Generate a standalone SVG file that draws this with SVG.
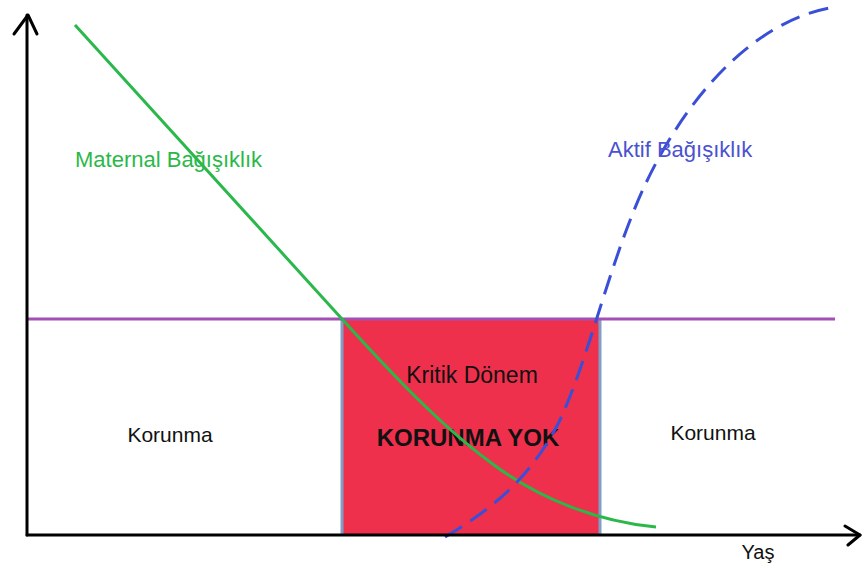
<svg xmlns="http://www.w3.org/2000/svg" width="862" height="571" viewBox="0 0 862 571">
<style>
text{font-family:"Liberation Sans",Arial,sans-serif;}
.axis{stroke:#000;stroke-width:3;fill:none;stroke-linecap:round;stroke-linejoin:round}
.lbl{font-size:21px;fill:#111}
</style>
<rect width="862" height="571" fill="#fff"/>
<g id="critical-zone">
<rect x="342" y="319" width="258" height="216" fill="#ef304c"/>
<line x1="342" y1="319" x2="342" y2="535" stroke="#7f9fc8" stroke-width="3"/>
<line x1="600" y1="319" x2="600" y2="535" stroke="#7f9fc8" stroke-width="3"/>
<text x="472" y="383" text-anchor="middle" font-size="23" fill="#111">Kritik Dönem</text>
<text x="468" y="446" text-anchor="middle" font-size="24" font-weight="bold" fill="#111">KORUNMA YOK</text>
</g>
<g id="threshold">
<line x1="27" y1="319" x2="835" y2="319" stroke="#a34fb3" stroke-width="3"/>
</g>
<g id="left-zone"><text x="170" y="442" text-anchor="middle" class="lbl">Korunma</text></g>
<g id="right-zone"><text x="713" y="440" text-anchor="middle" class="lbl">Korunma</text></g>
<g id="connectors">
<path id="maternal" d="M75,25 L342,319 C390,372 440,425 490,462 C540,500 600,522 656,527" fill="none" stroke="#2bb84a" stroke-width="3"/>
<path id="active" d="M445,537 C490,510 530,480 560,420 C590,355 610,260 645,185 C685,100 752,20 835,7" fill="none" stroke="#3a4fd6" stroke-width="3" stroke-dasharray="20,10"/>
</g>
<g id="axes">
<path class="axis" d="M27,535 L27,15"/>
<path class="axis" d="M14,34 L28,15 L37,34"/>
<path class="axis" d="M27,535 L860,535"/>
<path class="axis" d="M845,526 L860,535 L848,545"/>
</g>
<g id="labels">
<text x="75" y="167" font-size="22" fill="#2bb84a">Maternal Bağışıklık</text>
<text x="608" y="157" font-size="22" fill="#4a52d0">Aktif Bağışıklık</text>
<text x="758" y="559" text-anchor="middle" font-size="20" fill="#111">Yaş</text>
</g>
</svg>
